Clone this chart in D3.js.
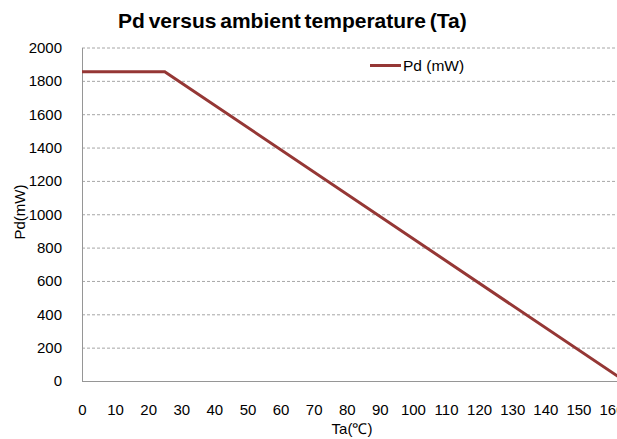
<!DOCTYPE html>
<html><head><meta charset="utf-8">
<script src="https://cdn.jsdelivr.net/npm/d3@7"></script>
<style>body{margin:0;background:#fff}svg{display:block}text{font-family:"Liberation Sans",Arial,sans-serif}</style>
</head><body>
<svg id="c" width="617" height="439"></svg>
<script>
const title = "Pd versus ambient temperature (Ta)";
const seriesName = "Pd (mW)";
const xLabel = "Ta(℃)";
const yLabel = "Pd(mW)";
const xTicks = [0,10,20,30,40,50,60,70,80,90,100,110,120,130,140,150,160];
const yTicks = [0,200,400,600,800,1000,1200,1400,1600,1800,2000];
const temps = [0, 25, 164];
const pd = [1855, 1855, 0];

const svg = d3.select("#c");
const W = 617, H = 439;
const x = d3.scaleLinear().domain([0,160]).range([82, 611.5]);
const y = d3.scaleLinear().domain([0,2000]).range([381, 47.5]);

svg.append("defs").append("clipPath").attr("id","clip")
  .append("rect").attr("x",82).attr("y",40).attr("width",W-82).attr("height",342);

// gridlines
svg.append("g").selectAll("line").data(yTicks.filter(d=>d>0)).join("line")
  .attr("x1",82).attr("x2",W).attr("y1",d=>y(d)+0.5).attr("y2",d=>y(d)+0.5)
  .attr("stroke","#a6a6a6").attr("stroke-width",1).attr("stroke-dasharray","3,2");

// axes
const yAxis = d3.axisLeft(y).tickValues(yTicks).tickFormat(d3.format("d")).tickSize(0).tickPadding(20);
const gy = svg.append("g").attr("transform","translate(82,0)").call(yAxis);
gy.select(".domain").attr("stroke","#969696");
gy.selectAll("text").attr("font-size",15).attr("fill","#000");

const xAxis = d3.axisBottom(x).tickValues(xTicks).tickFormat(d3.format("d")).tickSize(0).tickPadding(23);
const gx = svg.append("g").attr("transform","translate(0,381)").call(xAxis);
gx.select(".domain").attr("stroke","#969696").attr("d","M82,0.5H"+W);
gx.selectAll("text").attr("font-size",15).attr("fill","#000");

// line
const line = d3.line().x((d,i)=>x(temps[i])).y(d=>y(d));
svg.append("path").datum(pd).attr("clip-path","url(#clip)")
  .attr("d",line).attr("fill","none").attr("stroke","#953735").attr("stroke-width",3);

// title
svg.append("text").attr("x",118).attr("y",28).attr("text-anchor","start")
  .attr("font-size",21).attr("font-weight","bold").attr("word-spacing",-2).text(title);

// axis titles
svg.append("text").attr("x",352).attr("y",434).attr("text-anchor","middle")
  .attr("font-size",15).text(xLabel);
svg.append("text").attr("transform","translate(25,212) rotate(-90)").attr("text-anchor","middle")
  .attr("font-size",15).text(yLabel);

// legend
svg.append("line").attr("x1",370).attr("x2",401).attr("y1",65.5).attr("y2",65.5)
  .attr("stroke","#953735").attr("stroke-width",3);
svg.append("text").attr("x",403).attr("y",71).attr("font-size",15.5).text(seriesName);
</script>
</body></html>
